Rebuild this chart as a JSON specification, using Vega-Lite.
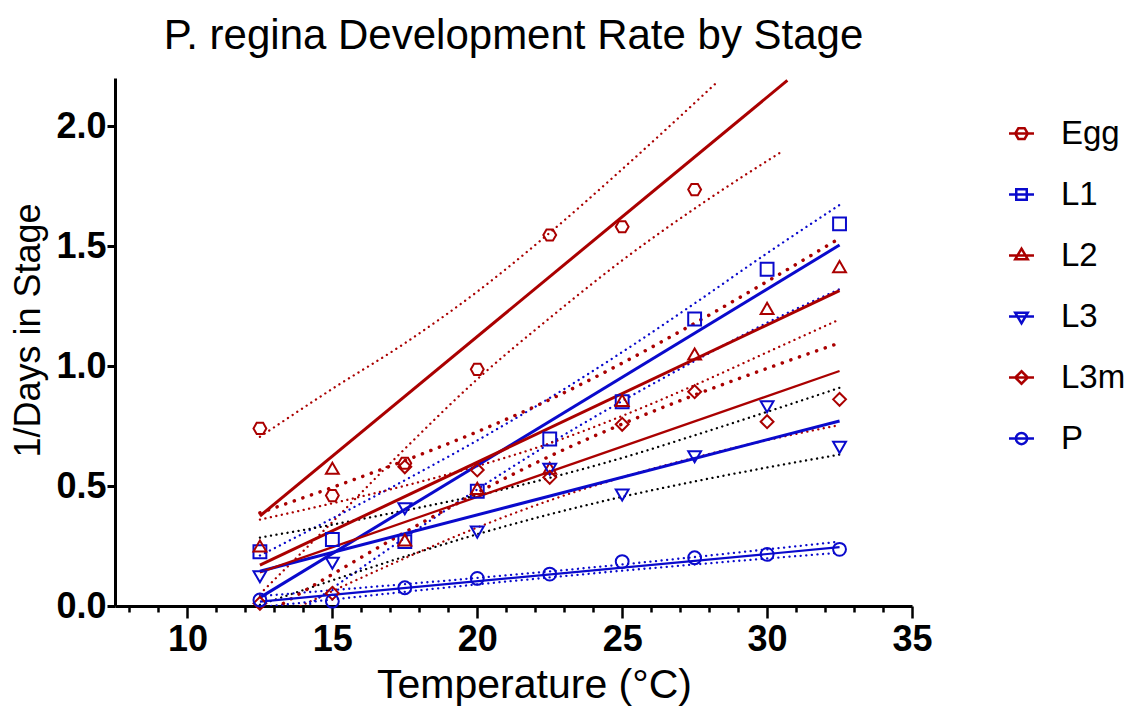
{
  "$schema": "https://vega.github.io/schema/vega-lite/v6.json",
  "width": 797,
  "height": 528,
  "autosize": {"type": "none"},
  "padding": {"left": 115, "top": 78, "right": 220, "bottom": 102},
  "background": "white",
  "title": {"text": "P. regina Development Rate by Stage", "font": "Liberation Sans", "fontSize": 42, "fontWeight": "normal", "color": "black", "offset": 20, "anchor": "middle"},
  "config": {
    "view": {"stroke": null},
    "font": "Liberation Sans",
    "axisX": {"domainWidth": 3, "domainColor": "black", "tickColor": "black", "tickWidth": 2.5, "labelFont": "Liberation Sans", "labelFontSize": 36, "labelFontWeight": "bold", "labelColor": "black", "titleFont": "Liberation Sans", "titleFontSize": 41, "titleFontWeight": "normal", "titleColor": "black", "grid": false, "labelOverlap": false, "labelFlush": false},
    "axisY": {"domainWidth": 3, "domainColor": "black", "tickColor": "black", "tickWidth": 3, "tickSize": 8, "labelFont": "Liberation Sans", "labelFontSize": 36, "labelFontWeight": "bold", "labelColor": "black", "titleFont": "Liberation Sans", "titleFontSize": 36, "titleFontWeight": "normal", "titleColor": "black", "grid": false, "labelOverlap": false, "labelFlush": false}
  },
  "datasets": {
    "pts": [
      {"stage": "Egg", "T": 12.5, "v": 0.74}, {"stage": "Egg", "T": 15, "v": 0.46}, {"stage": "Egg", "T": 17.5, "v": 0.595}, {"stage": "Egg", "T": 20, "v": 0.986}, {"stage": "Egg", "T": 22.5, "v": 1.546}, {"stage": "Egg", "T": 25, "v": 1.58}, {"stage": "Egg", "T": 27.5, "v": 1.735},
      {"stage": "L1", "T": 12.5, "v": 0.226}, {"stage": "L1", "T": 15, "v": 0.277}, {"stage": "L1", "T": 17.5, "v": 0.268}, {"stage": "L1", "T": 20, "v": 0.478}, {"stage": "L1", "T": 22.5, "v": 0.696}, {"stage": "L1", "T": 25, "v": 0.851}, {"stage": "L1", "T": 27.5, "v": 1.196}, {"stage": "L1", "T": 30, "v": 1.403}, {"stage": "L1", "T": 32.5, "v": 1.592},
      {"stage": "L2", "T": 12.5, "v": 0.25}, {"stage": "L2", "T": 15, "v": 0.574}, {"stage": "L2", "T": 17.5, "v": 0.275}, {"stage": "L2", "T": 20, "v": 0.49}, {"stage": "L2", "T": 22.5, "v": 0.574}, {"stage": "L2", "T": 25, "v": 0.857}, {"stage": "L2", "T": 27.5, "v": 1.05}, {"stage": "L2", "T": 30, "v": 1.24}, {"stage": "L2", "T": 32.5, "v": 1.414},
      {"stage": "L3", "T": 12.5, "v": 0.122}, {"stage": "L3", "T": 15, "v": 0.178}, {"stage": "L3", "T": 17.5, "v": 0.405}, {"stage": "L3", "T": 20, "v": 0.308}, {"stage": "L3", "T": 22.5, "v": 0.57}, {"stage": "L3", "T": 25, "v": 0.4625}, {"stage": "L3", "T": 27.5, "v": 0.622}, {"stage": "L3", "T": 30, "v": 0.83}, {"stage": "L3", "T": 32.5, "v": 0.661},
      {"stage": "L3m", "T": 12.5, "v": 0.011}, {"stage": "L3m", "T": 15, "v": 0.053}, {"stage": "L3m", "T": 17.5, "v": 0.58}, {"stage": "L3m", "T": 20, "v": 0.567}, {"stage": "L3m", "T": 22.5, "v": 0.536}, {"stage": "L3m", "T": 25, "v": 0.757}, {"stage": "L3m", "T": 27.5, "v": 0.893}, {"stage": "L3m", "T": 30, "v": 0.768}, {"stage": "L3m", "T": 32.5, "v": 0.861},
      {"stage": "P", "T": 12.5, "v": 0.025}, {"stage": "P", "T": 15, "v": 0.02}, {"stage": "P", "T": 17.5, "v": 0.076}, {"stage": "P", "T": 20, "v": 0.115}, {"stage": "P", "T": 22.5, "v": 0.133}, {"stage": "P", "T": 25, "v": 0.185}, {"stage": "P", "T": 27.5, "v": 0.201}, {"stage": "P", "T": 30, "v": 0.215}, {"stage": "P", "T": 32.5, "v": 0.236}
    ],
    "fits": [
      {"stage": "Egg", "T": 12.5, "v": 0.375}, {"stage": "Egg", "T": 30.7, "v": 2.19},
      {"stage": "L1", "T": 12.5, "v": 0.035}, {"stage": "L1", "T": 32.5, "v": 1.504},
      {"stage": "L2", "T": 12.5, "v": 0.17}, {"stage": "L2", "T": 32.5, "v": 1.314},
      {"stage": "L3", "T": 12.5, "v": 0.145}, {"stage": "L3", "T": 32.5, "v": 0.771},
      {"stage": "L3m", "T": 12.5, "v": 0.14}, {"stage": "L3m", "T": 32.5, "v": 0.979},
      {"stage": "P", "T": 12.5, "v": 0.018}, {"stage": "P", "T": 32.5, "v": 0.245}
    ],
    "ci": [
      {"stage": "Egg", "bound": "up", "T": 12.5, "v": 0.705}, {"stage": "Egg", "bound": "up", "T": 15, "v": 0.905}, {"stage": "Egg", "bound": "up", "T": 17.5, "v": 1.095}, {"stage": "Egg", "bound": "up", "T": 20, "v": 1.31}, {"stage": "Egg", "bound": "up", "T": 22.5, "v": 1.555}, {"stage": "Egg", "bound": "up", "T": 25, "v": 1.82}, {"stage": "Egg", "bound": "up", "T": 28.25, "v": 2.18},
      {"stage": "Egg", "bound": "lo", "T": 12.5, "v": 0.05}, {"stage": "Egg", "bound": "lo", "T": 15, "v": 0.35}, {"stage": "Egg", "bound": "lo", "T": 17.5, "v": 0.655}, {"stage": "Egg", "bound": "lo", "T": 20, "v": 0.945}, {"stage": "Egg", "bound": "lo", "T": 22.5, "v": 1.2}, {"stage": "Egg", "bound": "lo", "T": 25, "v": 1.44}, {"stage": "Egg", "bound": "lo", "T": 28, "v": 1.697}, {"stage": "Egg", "bound": "lo", "T": 30.5, "v": 1.893},
      {"stage": "L1", "bound": "up", "T": 12.5, "v": 0.21}, {"stage": "L1", "bound": "up", "T": 15, "v": 0.365}, {"stage": "L1", "bound": "up", "T": 17.5, "v": 0.524}, {"stage": "L1", "bound": "up", "T": 20, "v": 0.69}, {"stage": "L1", "bound": "up", "T": 22.5, "v": 0.867}, {"stage": "L1", "bound": "up", "T": 25, "v": 1.058}, {"stage": "L1", "bound": "up", "T": 27.5, "v": 1.261}, {"stage": "L1", "bound": "up", "T": 30, "v": 1.47}, {"stage": "L1", "bound": "up", "T": 32.5, "v": 1.671},
      {"stage": "L1", "bound": "lo", "T": 12.5, "v": -0.14}, {"stage": "L1", "bound": "lo", "T": 15, "v": 0.074}, {"stage": "L1", "bound": "lo", "T": 17.5, "v": 0.284}, {"stage": "L1", "bound": "lo", "T": 20, "v": 0.486}, {"stage": "L1", "bound": "lo", "T": 22.5, "v": 0.677}, {"stage": "L1", "bound": "lo", "T": 25, "v": 0.854}, {"stage": "L1", "bound": "lo", "T": 27.5, "v": 1.021}, {"stage": "L1", "bound": "lo", "T": 30, "v": 1.18}, {"stage": "L1", "bound": "lo", "T": 32.5, "v": 1.32},
      {"stage": "L2", "bound": "up", "T": 12.5, "v": 0.388}, {"stage": "L2", "bound": "up", "T": 15, "v": 0.494}, {"stage": "L2", "bound": "up", "T": 17.5, "v": 0.606}, {"stage": "L2", "bound": "up", "T": 20, "v": 0.726}, {"stage": "L2", "bound": "up", "T": 22.5, "v": 0.86}, {"stage": "L2", "bound": "up", "T": 25, "v": 1.012}, {"stage": "L2", "bound": "up", "T": 27.5, "v": 1.178}, {"stage": "L2", "bound": "up", "T": 30, "v": 1.352}, {"stage": "L2", "bound": "up", "T": 32.5, "v": 1.532},
      {"stage": "L2", "bound": "lo", "T": 12.5, "v": -0.048}, {"stage": "L2", "bound": "lo", "T": 15, "v": 0.132}, {"stage": "L2", "bound": "lo", "T": 17.5, "v": 0.307}, {"stage": "L2", "bound": "lo", "T": 20, "v": 0.472}, {"stage": "L2", "bound": "lo", "T": 22.5, "v": 0.624}, {"stage": "L2", "bound": "lo", "T": 25, "v": 0.758}, {"stage": "L2", "bound": "lo", "T": 27.5, "v": 0.879}, {"stage": "L2", "bound": "lo", "T": 30, "v": 0.99}, {"stage": "L2", "bound": "lo", "T": 32.5, "v": 1.096},
      {"stage": "L3", "bound": "up", "T": 12.5, "v": 0.285}, {"stage": "L3", "bound": "up", "T": 15, "v": 0.339}, {"stage": "L3", "bound": "up", "T": 17.5, "v": 0.398}, {"stage": "L3", "bound": "up", "T": 20, "v": 0.461}, {"stage": "L3", "bound": "up", "T": 22.5, "v": 0.534}, {"stage": "L3", "bound": "up", "T": 25, "v": 0.617}, {"stage": "L3", "bound": "up", "T": 27.5, "v": 0.711}, {"stage": "L3", "bound": "up", "T": 30, "v": 0.809}, {"stage": "L3", "bound": "up", "T": 32.5, "v": 0.909},
      {"stage": "L3", "bound": "lo", "T": 12.5, "v": 0.005}, {"stage": "L3", "bound": "lo", "T": 15, "v": 0.107}, {"stage": "L3", "bound": "lo", "T": 17.5, "v": 0.206}, {"stage": "L3", "bound": "lo", "T": 20, "v": 0.299}, {"stage": "L3", "bound": "lo", "T": 22.5, "v": 0.382}, {"stage": "L3", "bound": "lo", "T": 25, "v": 0.455}, {"stage": "L3", "bound": "lo", "T": 27.5, "v": 0.519}, {"stage": "L3", "bound": "lo", "T": 30, "v": 0.577}, {"stage": "L3", "bound": "lo", "T": 32.5, "v": 0.631},
      {"stage": "L3m", "bound": "up", "T": 12.5, "v": 0.36}, {"stage": "L3m", "bound": "up", "T": 15, "v": 0.428}, {"stage": "L3m", "bound": "up", "T": 17.5, "v": 0.501}, {"stage": "L3m", "bound": "up", "T": 20, "v": 0.583}, {"stage": "L3m", "bound": "up", "T": 22.5, "v": 0.678}, {"stage": "L3m", "bound": "up", "T": 25, "v": 0.792}, {"stage": "L3m", "bound": "up", "T": 27.5, "v": 0.92}, {"stage": "L3m", "bound": "up", "T": 30, "v": 1.057}, {"stage": "L3m", "bound": "up", "T": 32.5, "v": 1.194},
      {"stage": "L3m", "bound": "lo", "T": 12.5, "v": -0.08}, {"stage": "L3m", "bound": "lo", "T": 15, "v": 0.062}, {"stage": "L3m", "bound": "lo", "T": 17.5, "v": 0.199}, {"stage": "L3m", "bound": "lo", "T": 20, "v": 0.327}, {"stage": "L3m", "bound": "lo", "T": 22.5, "v": 0.44}, {"stage": "L3m", "bound": "lo", "T": 25, "v": 0.536}, {"stage": "L3m", "bound": "lo", "T": 27.5, "v": 0.618}, {"stage": "L3m", "bound": "lo", "T": 30, "v": 0.691}, {"stage": "L3m", "bound": "lo", "T": 32.5, "v": 0.754},
      {"stage": "P", "bound": "up", "T": 12.5, "v": 0.041}, {"stage": "P", "bound": "up", "T": 15, "v": 0.066}, {"stage": "P", "bound": "up", "T": 17.5, "v": 0.091}, {"stage": "P", "bound": "up", "T": 20, "v": 0.117}, {"stage": "P", "bound": "up", "T": 22.5, "v": 0.144}, {"stage": "P", "bound": "up", "T": 25, "v": 0.173}, {"stage": "P", "bound": "up", "T": 27.5, "v": 0.204}, {"stage": "P", "bound": "up", "T": 30, "v": 0.236}, {"stage": "P", "bound": "up", "T": 32.5, "v": 0.268},
      {"stage": "P", "bound": "lo", "T": 12.5, "v": -0.005}, {"stage": "P", "bound": "lo", "T": 15, "v": 0.027}, {"stage": "P", "bound": "lo", "T": 17.5, "v": 0.059}, {"stage": "P", "bound": "lo", "T": 20, "v": 0.09}, {"stage": "P", "bound": "lo", "T": 22.5, "v": 0.119}, {"stage": "P", "bound": "lo", "T": 25, "v": 0.147}, {"stage": "P", "bound": "lo", "T": 27.5, "v": 0.173}, {"stage": "P", "bound": "lo", "T": 30, "v": 0.198}, {"stage": "P", "bound": "lo", "T": 32.5, "v": 0.222}
    ]
  },
  "encoding": {
    "x": {"field": "T", "type": "quantitative", "scale": {"domain": [7.5, 35], "nice": false, "zero": false},
      "axis": {"title": "Temperature (°C)", "titleX": 419, "values": [8, 9, 10, 11, 12, 13, 14, 15, 16, 17, 18, 19, 20, 21, 22, 23, 24, 25, 26, 27, 28, 29, 30, 31, 32, 33, 34, 35], "labelExpr": "datum.value % 5 === 0 ? datum.label : ''", "format": "d", "tickSize": {"condition": {"test": "datum.value % 5 === 0", "value": 12}, "value": 6}, "labelPadding": 4, "titlePadding": 8, "labelFlush": false, "labelOverlap": false}},
    "y": {"field": "v", "type": "quantitative", "scale": {"domain": [0, 2.2], "nice": false, "zero": false},
      "axis": {"title": "1/Days in Stage", "titleY": 252, "values": [0, 0.5, 1, 1.5, 2], "format": ".1f", "labelPadding": 1, "titlePadding": 8, "labelFlush": false, "labelOverlap": false}}
  },
  "layer": [
    {
      "data": {"name": "ci"},
      "transform": [{"filter": "datum.stage !== 'L2'"}],
      "mark": {"type": "line", "strokeWidth": 2.3, "strokeDash": [0.1, 5.5], "strokeCap": "round", "clip": true, "interpolate": "monotone"},
      "encoding": {
        "color": {"field": "stage", "type": "nominal", "scale": {"domain": ["Egg", "L1", "L2", "L3", "L3m", "P"], "range": ["#aa0000", "#0a0acc", "#aa0000", "#000000", "#aa0000", "#0a0acc"]}, "legend": null},
        "detail": {"field": "bound", "type": "nominal"}
      }
    },
    {
      "data": {"name": "ci"},
      "transform": [{"filter": "datum.stage === 'L2'"}],
      "mark": {"type": "line", "strokeWidth": 3.5, "strokeDash": [0.1, 9], "strokeCap": "round", "clip": true, "interpolate": "monotone", "color": "#aa0000"},
      "encoding": {
        "detail": {"field": "bound", "type": "nominal"}
      }
    },
    {
      "data": {"name": "fits"},
      "transform": [{"filter": "datum.stage === 'Egg' || datum.stage === 'L1' || datum.stage === 'L2' || datum.stage === 'L3'"}],
      "mark": {"type": "line", "strokeWidth": 3, "clip": true},
      "encoding": {
        "color": {"field": "stage", "type": "nominal", "scale": {"domain": ["Egg", "L1", "L2", "L3", "L3m", "P"], "range": ["#aa0000", "#0a0acc", "#aa0000", "#0a0acc", "#aa0000", "#0a0acc"]}, "legend": null}
      }
    },
    {
      "data": {"name": "fits"},
      "transform": [{"filter": "datum.stage === 'L3m' || datum.stage === 'P'"}],
      "mark": {"type": "line", "strokeWidth": 2.2, "clip": true},
      "encoding": {
        "color": {"field": "stage", "type": "nominal", "scale": {"domain": ["Egg", "L1", "L2", "L3", "L3m", "P"], "range": ["#aa0000", "#0a0acc", "#aa0000", "#0a0acc", "#aa0000", "#0a0acc"]}, "legend": null}
      }
    },
    {
      "data": {"name": "pts"},
      "mark": {"type": "point", "filled": false, "strokeWidth": 2, "size": 165, "opacity": 1},
      "encoding": {
        "color": {"field": "stage", "type": "nominal", "scale": {"domain": ["Egg", "L1", "L2", "L3", "L3m", "P"], "range": ["#aa0000", "#0a0acc", "#aa0000", "#0a0acc", "#aa0000", "#0a0acc"]}, "legend": null},
        "shape": {"field": "stage", "type": "nominal", "scale": {"domain": ["Egg", "L1", "L2", "L3", "L3m", "P"], "range": ["M-1,0L-0.5,-0.866L0.5,-0.866L1,0L0.5,0.866L-0.5,0.866Z", "square", "triangle-up", "triangle-down", "diamond", "circle"]}, "legend": null}
      }
    },
    {
      "data": {"name": "pts"},
      "transform": [{"filter": "false"}],
      "mark": {"type": "point", "filled": false, "strokeWidth": 2.5, "opacity": 1},
      "encoding": {
        "color": {"field": "stage", "type": "nominal", "scale": {"domain": ["Egg", "L1", "L2", "L3", "L3m", "P"], "range": ["#aa0000", "#0a0acc", "#aa0000", "#0a0acc", "#aa0000", "#0a0acc"]},
          "legend": {"title": null, "orient": "none", "legendX": 890, "legendY": 39, "padding": 0, "labelFont": "Liberation Sans", "labelFontSize": 33, "labelColor": "black", "symbolSize": 625, "symbolStrokeWidth": 2.5, "labelOffset": 23, "rowPadding": 27}},
        "shape": {"field": "stage", "type": "nominal", "scale": {"domain": ["Egg", "L1", "L2", "L3", "L3m", "P"], "range": ["M-0.5,0L-0.25,-0.43L0.25,-0.43L0.5,0L0.25,0.43L-0.25,0.43ZM-1,0L1,0", "M-0.42,-0.42L0.42,-0.42L0.42,0.42L-0.42,0.42ZM-1,0L1,0", "M0,-0.55L0.5,0.3L-0.5,0.3ZM-1,0L1,0", "M0,0.55L0.5,-0.3L-0.5,-0.3ZM-1,0L1,0", "M0,-0.5L0.5,0L0,0.5L-0.5,0ZM-1,0L1,0", "M-0.45,0A0.45,0.45 0 1,0 0.45,0A0.45,0.45 0 1,0 -0.45,0ZM-1,0L1,0"]},
          "legend": {"title": null, "orient": "none", "legendX": 890, "legendY": 39, "padding": 0, "labelFont": "Liberation Sans", "labelFontSize": 33, "labelColor": "black", "symbolSize": 625, "symbolStrokeWidth": 2.5, "labelOffset": 23, "rowPadding": 27}}
      }
    }
  ],
  "resolve": {"scale": {"color": "independent", "shape": "independent"}}
}
